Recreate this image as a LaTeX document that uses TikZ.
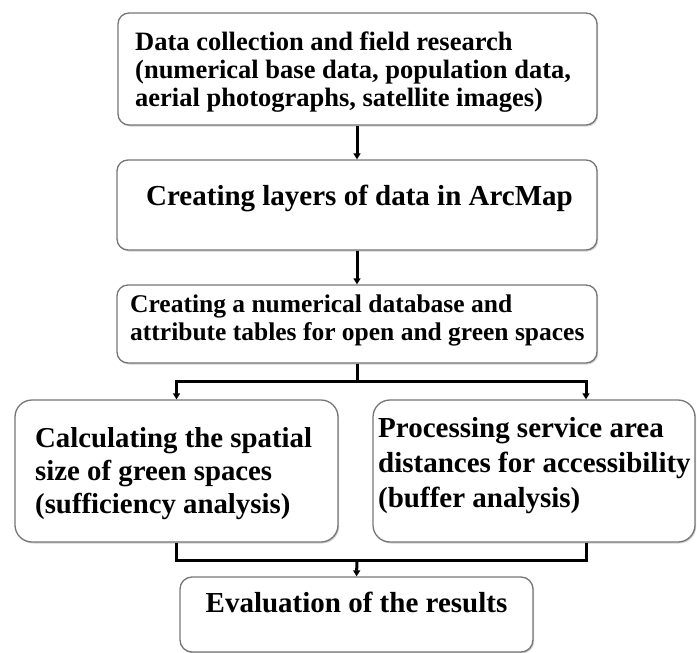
\documentclass[tikz,border=0pt]{standalone}
\usepackage{fontspec}
\setmainfont{Liberation Serif}
\usetikzlibrary{arrows.meta,shadows}
\definecolor{boxgray}{RGB}{118,118,118}
\begin{document}
\begin{tikzpicture}[x=1pt,y=-1pt,
  box/.style={draw=boxgray, line width=1.3pt, fill=white, inner sep=0pt,
    drop shadow={shadow xshift=1.2pt, shadow yshift=-1.5pt, opacity=0.35, fill=gray}},
  txt/.style={inner sep=0pt, align=left, font=\bfseries},
  link/.style={line width=3pt, black},
  conn/.style={link, -{Triangle[width=7pt,length=6pt]}}]
\useasboundingbox (0,0) rectangle (697,653);
% boxes
\node[box, rounded corners=11pt, minimum width=479pt, minimum height=112pt] (b1) at (357.5,69) {};
\node[box, rounded corners=11pt, minimum width=480pt, minimum height=90pt] (b2) at (357,205) {};
\node[box, rounded corners=11pt, minimum width=480pt, minimum height=78pt] (b3) at (357,324) {};
\node[box, rounded corners=17pt, minimum width=323pt, minimum height=142pt] (b4) at (176.5,471) {};
\node[box, rounded corners=17pt, minimum width=322pt, minimum height=142pt] (b5) at (534,471) {};
\node[box, rounded corners=12pt, minimum width=353pt, minimum height=75pt] (b6) at (356.5,614.5) {};
% texts (base anchor = baseline of the last line)
\node[txt, anchor=base west, font=\fontsize{26.5}{28}\selectfont\bfseries] (t1) at (135,106)
  {Data collection and field research\\(numerical base data, population data,\\aerial photographs, satellite images)};
\node[txt, anchor=base, font=\fontsize{29}{34}\selectfont\bfseries] (t2) at (359.5,205)
  {Creating layers of data in ArcMap};
\node[txt, anchor=base west, font=\fontsize{25.5}{28}\selectfont\bfseries] (t3) at (130,340)
  {Creating a numerical database and\\attribute tables for open and green spaces};
\node[txt, anchor=base west, font=\fontsize{28.8}{33}\selectfont\bfseries] (t4) at (35,513)
  {Calculating the spatial\\size of green spaces\\(sufficiency analysis)};
\node[txt, anchor=base west, font=\fontsize{29}{35}\selectfont\bfseries] (t5) at (378,507)
  {Processing service area\\distances for accessibility\\(buffer analysis)};
\node[txt, anchor=base, font=\fontsize{29}{34}\selectfont\bfseries] (t6) at (356.5,612)
  {Evaluation of the results};
% connectors
\coordinate (j1) at (357,381);
\coordinate (a5) at (586,381);
\coordinate (j2) at (357,560);
\draw[conn] (b1.south -| j1) -- (b2.north -| j1);
\draw[conn] (b2.south -| j1) -- (b3.north -| j1);
\draw[link] (b3.south -| j1) -- (j1);
\draw[conn] (j1) -| (b4.north);
\draw[conn] (j1) -| (b5.north -| a5);
\draw[link] (b4.south) |- (j2);
\draw[link] (b5.south -| a5) |- (j2);
\draw[conn] (j2) -- (b6.north);
\end{tikzpicture}
\end{document}
